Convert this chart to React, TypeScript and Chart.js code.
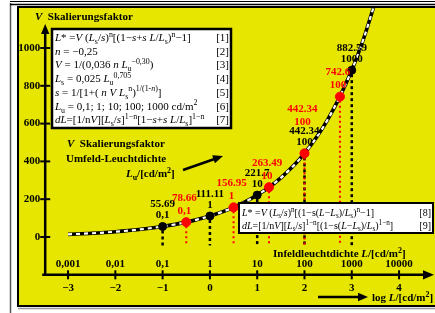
import React, { useEffect, useRef } from 'react';
import { Chart, registerables } from 'chart.js';
Chart.register(...registerables);

// ---- data ----
const curveLogL = [-3, -2.5, -2, -1.5, -1, -0.5, 0, 0.5, 1, 1.5, 2, 2.5, 3, 3.25, 3.5];
const curveV = [13.96, 19.72, 27.87, 39.37, 55.69, 78.66, 111.11, 156.95, 221.7, 313.2, 442.34, 624.8, 882.59, 1049, 1247];
const blackLogL = [-1, 0, 1, 2, 3];
const blackV = [55.69, 111.11, 221.7, 442.34, 882.59];
const blackLu = ['0,1', '1', '10', '100', '1000'];
const redLogL = [-0.5, 0.5, 1.25, 2, 2.75];
const redV = [78.66, 156.95, 263.49, 442.34, 742.6];
const redLu = ['0,1', '1', '10', '100', '100'];
const yTicks = [0, 200, 400, 600, 800, 1000];
const xTicks = [-3, -2, -1, 0, 1, 2, 3, 4];
const xTickLum = ['0,001', '0,01', '0,1', '1', '10', '100', '1000', '10000'];
const formulaLines = [
  '|L|* =|V| (|L|_{s}/|s|)^{n}[(1−|s|+|s L|/|L|_{s})^{n}−1]',
  '|n| = −0,25',
  '|V| = 1/(0,036 |n L|_{u}^{−0,30})',
  '|L|_{s} = 0,025 |L|_{u}^{0,705}',
  '|s| = 1/[1+( |n V L|_{s}^{n})^{1/(1-|n|)}]',
  '|L|_{u} = 0,1; 1; 10; 100; 1000 cd/m^{2}',
  '|dL|=[1/n|V|][|L|_{s}/|s|]^{1−n}[1−|s|+|s L|/|L|_{s}]^{1−n}',
];
const formulaTags = ['[1]', '[2]', '[3]', '[4]', '[5]', '[6]', '[7]'];
const formula2Lines = [
  '|L|* =|V| (|L|_{s}/|s|)^{n}[(1−s(|L|−|L|_{s})/|L|_{s})^{n}−1]',
  '|dL|=[1/n|V|][|L|_{s}/|s|]^{1−n}[(1−s(|L|−|L|_{s})/|L|_{s})^{1−n}]',
];
const formula2Tags = ['[8]', '[9]'];
const titleText = '|V|  Skalierungsfaktor';
const noteLines = ['|V|  Skalierungsfaktor', 'Umfeld-Leuchtdichte', '|L|_{u}/[cd/m^{2}]'];
const xTitle = 'Infeldleuchtdichte |L|/[cd/m^{2}]';
const xTitle2 = 'log |L|/[cd/m^{2}]';

const SERIF = '"Liberation Serif", "Times New Roman", serif';
const YELLOW = '#e6e600';
const RED = '#ff0000';

function font(size: number, bold: boolean, italic: boolean) {
  return `${italic ? 'italic ' : ''}${bold ? 'bold ' : ''}${size}px ${SERIF}`;
}

type Seg = { t: string; i: boolean; m: number };
function parseRich(src: string): Seg[] {
  const segs: Seg[] = [];
  let it = false;
  let mode = 0;
  let buf = '';
  const flush = () => {
    if (buf) { segs.push({ t: buf, i: it, m: mode }); buf = ''; }
  };
  for (let k = 0; k < src.length; k++) {
    const c = src[k];
    if (c === '|') { flush(); it = !it; }
    else if ((c === '_' || c === '^') && src[k + 1] === '{') { flush(); mode = c === '_' ? 1 : 2; k++; }
    else if (c === '}' && mode) { flush(); mode = 0; }
    else buf += c;
  }
  flush();
  return segs;
}

function drawRich(ctx: CanvasRenderingContext2D, src: string, x: number, y: number, size: number, bold: boolean) {
  const segs = parseRich(src);
  let cx = x;
  ctx.textAlign = 'left';
  ctx.textBaseline = 'alphabetic';
  for (const s of segs) {
    const fs = s.m ? size * 0.72 : size;
    ctx.font = font(fs, bold, s.i);
    const dy = s.m === 1 ? size * 0.28 : s.m === 2 ? -size * 0.4 : 0;
    ctx.fillText(s.t, cx, y + dy);
    cx += ctx.measureText(s.t).width;
  }
  return cx;
}

function arrow(ctx: CanvasRenderingContext2D, x1: number, y1: number, x2: number, y2: number, w: number, head: number) {
  const a = Math.atan2(y2 - y1, x2 - x1);
  const bx = x2 - head * Math.cos(a);
  const by = y2 - head * Math.sin(a);
  ctx.beginPath();
  ctx.lineWidth = w;
  ctx.setLineDash([]);
  ctx.moveTo(x1, y1);
  ctx.lineTo(bx + Math.cos(a), by + Math.sin(a));
  ctx.stroke();
  const hw = head * 0.42;
  ctx.beginPath();
  ctx.moveTo(x2, y2);
  ctx.lineTo(bx + hw * Math.sin(a), by - hw * Math.cos(a));
  ctx.lineTo(bx - hw * Math.sin(a), by + hw * Math.cos(a));
  ctx.closePath();
  ctx.fill();
}

const framePlugin = {
  id: 'frame',
  beforeDraw(chart: any) {
    const ctx: CanvasRenderingContext2D = chart.ctx;
    ctx.save();
    ctx.fillStyle = '#ffffff';
    ctx.fillRect(0, 0, chart.width, chart.height);
    ctx.strokeStyle = '#555555';
    ctx.lineWidth = 1.5;
    ctx.beginPath();
    ctx.moveTo(10.5, 3);
    ctx.lineTo(10.5, chart.height);
    ctx.stroke();
    ctx.strokeStyle = '#000000';
    ctx.lineWidth = 1;
    ctx.beginPath();
    ctx.moveTo(10, 1.5);
    ctx.lineTo(chart.width, 1.5);
    ctx.stroke();
    ctx.lineWidth = 1.5;
    ctx.beginPath();
    ctx.moveTo(10, 4.5);
    ctx.lineTo(chart.width, 4.5);
    ctx.stroke();
    ctx.fillStyle = YELLOW;
    ctx.fillRect(18, 7, chart.width - 18, 299);
    ctx.lineWidth = 2;
    ctx.strokeStyle = '#000000';
    ctx.strokeRect(18, 7, chart.width, 299);
    ctx.strokeStyle = '#999999';
    ctx.lineWidth = 1.5;
    ctx.beginPath();
    ctx.moveTo(18, 308.5);
    ctx.lineTo(chart.width, 308.5);
    ctx.stroke();
    ctx.restore();
  },
  beforeDatasetsDraw(chart: any) {
    const ctx: CanvasRenderingContext2D = chart.ctx;
    const xs = chart.scales.x;
    const ys = chart.scales.y;
    const ca = chart.chartArea;
    const ax = ca.left + 0.8;
    const ay = ys.getPixelForValue(-200);
    ctx.save();
    ctx.strokeStyle = '#000';
    ctx.fillStyle = '#000';
    arrow(ctx, ax, ay + 1, ax, 24, 2.5, 10);
    arrow(ctx, ax - 3, ay, 434, ay, 2.5, 11);
    // y ticks
    ctx.lineWidth = 2;
    ctx.font = font(11, true, false);
    ctx.textAlign = 'right';
    ctx.textBaseline = 'middle';
    for (const v of yTicks) {
      const py = ys.getPixelForValue(v);
      ctx.beginPath();
      ctx.moveTo(ax - 5, py);
      ctx.lineTo(ax + 5, py);
      ctx.stroke();
      ctx.fillText(String(v), ax - 5, py);
    }
    // x ticks
    ctx.textAlign = 'center';
    xTicks.forEach((v, i) => {
      const px = xs.getPixelForValue(v);
      ctx.beginPath();
      ctx.moveTo(px, ay - 4.5);
      ctx.lineTo(px, ay + 4.5);
      ctx.stroke();
      ctx.fillText(xTickLum[i], px, ay - 11);
      ctx.fillText(v < 0 ? '−' + String(-v) : String(v), px, ay + 13);
    });
    // drop lines
    const bottom = ys.getPixelForValue(-45);
    ctx.lineWidth = 2.5;
    ctx.setLineDash([3, 3]);
    ctx.strokeStyle = '#000';
    blackLogL.forEach((lx, i) => {
      const px = xs.getPixelForValue(lx);
      ctx.beginPath();
      ctx.moveTo(px, ys.getPixelForValue(blackV[i]) + 4);
      ctx.lineTo(px, bottom);
      ctx.stroke();
    });
    ctx.lineWidth = 2;
    ctx.setLineDash([2, 3]);
    ctx.strokeStyle = RED;
    redLogL.forEach((lx, i) => {
      const px = xs.getPixelForValue(lx);
      ctx.beginPath();
      ctx.moveTo(px, ys.getPixelForValue(redV[i]) + 4);
      ctx.lineTo(px, bottom);
      ctx.stroke();
    });
    ctx.restore();
  },
  afterDatasetsDraw(chart: any) {
    const ctx: CanvasRenderingContext2D = chart.ctx;
    const xs = chart.scales.x;
    const ys = chart.scales.y;
    ctx.save();
    // point labels
    ctx.font = font(11, true, false);
    ctx.textAlign = 'center';
    ctx.textBaseline = 'middle';
    ctx.fillStyle = '#000';
    blackLogL.forEach((lx, i) => {
      const px = xs.getPixelForValue(lx);
      const py = ys.getPixelForValue(blackV[i]);
      ctx.fillText(String(blackV[i]), px, py - 22);
      ctx.fillText(blackLu[i], px, py - 11);
    });
    ctx.fillStyle = RED;
    redLogL.forEach((lx, i) => {
      const px = xs.getPixelForValue(lx);
      const py = ys.getPixelForValue(redV[i]);
      const clash = blackLogL.some((b, j) => b === lx && blackV[j] === redV[i]);
      const off = clash ? -20 : 0;
      ctx.fillText(String(redV[i]), px - 2, py - 24 + off);
      ctx.fillText(redLu[i], px - 2, py - 11 + off);
    });
    // formula box 1
    ctx.fillStyle = '#fff';
    ctx.fillRect(52, 29, 179, 99);
    ctx.strokeStyle = '#000';
    ctx.lineWidth = 2.5;
    ctx.setLineDash([]);
    ctx.strokeRect(52, 29, 179, 99);
    ctx.fillStyle = '#000';
    formulaLines.forEach((l, k) => {
      const by = 41 + k * 13.7;
      drawRich(ctx, l, 55, by, 11, false);
      ctx.font = font(11, false, false);
      ctx.textAlign = 'right';
      ctx.fillText(formulaTags[k], 229, by);
    });
    // formula box 2
    ctx.fillStyle = '#fff';
    ctx.fillRect(239, 203, 194, 30);
    ctx.lineWidth = 2;
    ctx.strokeRect(239, 203, 194, 30);
    ctx.fillStyle = '#000';
    formula2Lines.forEach((l, k) => {
      const by = 215.5 + k * 13;
      drawRich(ctx, l, 242, by, 10, false);
      ctx.font = font(10, false, false);
      ctx.textAlign = 'right';
      ctx.fillText(formula2Tags[k], 431, by);
    });
    // titles and notes
    drawRich(ctx, titleText, 35, 20, 11, true);
    drawRich(ctx, noteLines[0], 67, 147, 11, true);
    drawRich(ctx, noteLines[1], 66, 162, 11, true);
    drawRich(ctx, noteLines[2], 126, 177, 11, true);
    drawRich(ctx, xTitle, 273, 257, 11, true);
    drawRich(ctx, xTitle2, 372, 301, 11, true);
    ctx.strokeStyle = '#000';
    ctx.fillStyle = '#000';
    arrow(ctx, 183, 170, 223, 156, 2.5, 10);
    arrow(ctx, 318, 297, 368, 297, 2.5, 10);
    ctx.restore();
  },
};

export default function App() {
  const ref = useRef<HTMLCanvasElement | null>(null);
  useEffect(() => {
    document.body.style.margin = '0';
    const canvas = ref.current;
    if (!canvas) return;
    const curve = curveLogL.map((x, i) => ({ x, y: curveV[i] }));
    const chart = new Chart(canvas, {
      type: 'scatter',
      data: {
        datasets: [
          {
            data: redLogL.map((x, i) => ({ x, y: redV[i] })),
            backgroundColor: RED,
            borderColor: RED,
            pointRadius: 4.5,
            showLine: false,
          },
          {
            data: blackLogL.map((x, i) => ({ x, y: blackV[i] })),
            backgroundColor: '#000',
            borderColor: '#000',
            pointRadius: 4,
            showLine: false,
          },
          {
            data: curve,
            showLine: true,
            borderColor: '#fff',
            borderWidth: 2.2,
            borderDash: [4, 4],
            pointRadius: 0,
            cubicInterpolationMode: 'monotone',
          },
          {
            data: curve,
            showLine: true,
            borderColor: '#000',
            borderWidth: 3.6,
            pointRadius: 0,
            cubicInterpolationMode: 'monotone',
          },
        ] as any,
      },
      options: {
        animation: false,
        responsive: false,
        devicePixelRatio: 1,
        events: [],
        layout: { padding: { left: 44.4, right: 12.3, top: 8.3, bottom: 38.2 } },
        scales: {
          x: { type: 'linear', min: -3.5, max: 4.5, display: false },
          y: { type: 'linear', min: -200, max: 1210, display: false },
        },
        plugins: { legend: { display: false }, tooltip: { enabled: false } },
      } as any,
      plugins: [framePlugin],
    });
    return () => chart.destroy();
  }, []);
  return (
    <div style={{ width: 435, height: 313 }}>
      <canvas ref={ref} width={435} height={313} />
    </div>
  );
}
